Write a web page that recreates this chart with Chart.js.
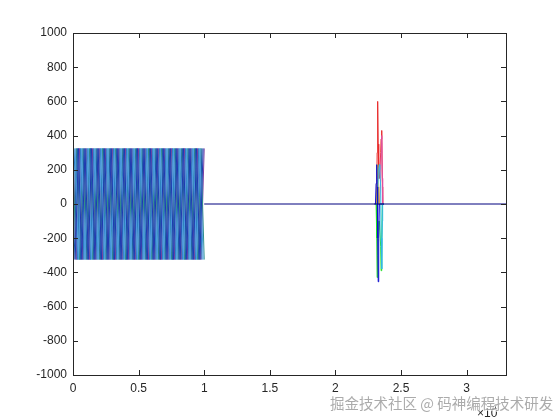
<!DOCTYPE html>
<html>
<head>
<meta charset="utf-8">
<script src="https://cdn.jsdelivr.net/npm/chart.js@4.4.1/dist/chart.umd.min.js"></script>
<style>
  html, body { margin: 0; padding: 0; background: #fff; }
  #wrap { width: 560px; height: 420px; position: relative; }
</style>
</head>
<body>
<div id="wrap"><canvas id="plot" width="560" height="420"></canvas></div>
<script>
// sample times (x axis, samples) for the three phase groups of the band
let tA = [0,250,500,750,1000,1250,1500,1750,2000,2250,2500,2750,3000,3250,3500,3750,4000,4250,4500,4750,5000,5250,5500,5750,6000,6250,6500,6750,7000,7250,7500,7750,8000,8250,8500,8750,9000,9250,9500,9750,10000];
let tB = [83,333,583,833,1083,1333,1583,1833,2083,2333,2583,2833,3083,3333,3583,3833,4083,4333,4583,4833,5083,5333,5583,5833,6083,6333,6583,6833,7083,7333,7583,7833,8083,8333,8583,8833,9083,9333,9583,9833];
let tC = [167,417,667,917,1167,1417,1667,1917,2167,2417,2667,2917,3167,3417,3667,3917,4167,4417,4667,4917,5167,5417,5667,5917,6167,6417,6667,6917,7167,7417,7667,7917,8167,8417,8667,8917,9167,9417,9667,9917];

// peak / trough values of the waves
let swingUp = [325,-325,325,-325,325,-325,325,-325,325,-325,325,-325,325,-325,325,-325,325,-325,325,-325,325,-325,325,-325,325,-325,325,-325,325,-325,325,-325,325,-325,325,-325,325,-325,325,-325,325];
let swingDown = [-325,325,-325,325,-325,325,-325,325,-325,325,-325,325,-325,325,-325,325,-325,325,-325,325,-325,325,-325,325,-325,325,-325,325,-325,325,-325,325,-325,325,-325,325,-325,325,-325,325,-325];

// flat part after the band
let flatT = [10000, 33000];
let flatV = [0, 0];

// transient around 2.3e4
let spikeT = [23000,23050,23100,23150,23180,23220,23260,23300,23350,23380,23450,23480,23530,23580,23600,23700];
let spikeRed     = [0,0,0,80,300,600,350,150,150,150,300,380,430,100,0,0];
let spikeBlue    = [0,0,120,230,100,-200,-455,-200,0,0,0,0,0,0,0,0];
let spikeGreen   = [0,0,0,-200,-430,-300,-150,-100,-100,-100,-250,-390,-200,0,0,0];
let spikeCyan    = [0,0,0,0,0,80,150,200,230,200,100,-200,-380,-100,0,0];
let spikeYellow  = [0,0,0,60,150,230,100,0,0,0,0,0,0,0,0,0];
let spikeMagenta = [0,0,0,0,0,0,0,0,0,0,150,300,400,150,0,0];

let xTicks = [0,5000,10000,15000,20000,25000,30000];
let xTickLabels = ["0","0.5","1","1.5","2","2.5","3"];
let yTicks = [-1000,-800,-600,-400,-200,0,200,400,600,800,1000];

function pts(times, vals) {
  return times.map(function (t, i) { return { x: t, y: vals[i] }; });
}

function line(label, times, vals, color) {
  return {
    label: label,
    data: pts(times, vals),
    borderColor: color,
    borderWidth: 1,
    pointRadius: 0,
    tension: 0,
    fill: false
  };
}

// first dataset is drawn on top
var datasets = [
  line("flat", flatT, flatV, "#00007f"),
  line("s1", spikeT, spikeBlue, "#1010d0"),
  line("s2", spikeT, spikeCyan, "#30b8e8"),
  line("s3", spikeT, spikeYellow, "#d8d020"),
  line("s4", spikeT, spikeGreen, "#20e020"),
  line("s5", spikeT, spikeMagenta, "#e050a0"),
  line("s6", spikeT, spikeRed, "#e82828"),
  line("b1", tC, swingDown, "#1f3ab0"),
  line("b2", tC, swingUp, "#4a9be0"),
  line("b3", tB, swingDown, "#1d5aa8"),
  line("b4", tB, swingUp, "#2c80c4"),
  line("b5", tA, swingDown, "#2f8f8c"),
  line("b6", tA, swingUp, "#7a40a0")
];

// MATLAB style box with inward ticks, plus the exponent and watermark
var boxPlugin = {
  id: "box",
  afterDraw: function (chart) {
    var ctx = chart.ctx;
    var a = chart.chartArea;
    var xs = chart.scales.x, ys = chart.scales.y;
    ctx.save();
    ctx.strokeStyle = "#262626";
    ctx.lineWidth = 1;
    ctx.strokeRect(Math.round(a.left) + 0.5, Math.round(a.top) + 0.5,
      Math.round(a.right - a.left), Math.round(a.bottom - a.top));
    ctx.beginPath();
    xTicks.forEach(function (v) {
      var px = Math.round(xs.getPixelForValue(v)) + 0.5;
      ctx.moveTo(px, a.bottom); ctx.lineTo(px, a.bottom - 5);
      ctx.moveTo(px, a.top); ctx.lineTo(px, a.top + 5);
    });
    yTicks.forEach(function (v) {
      var py = Math.round(ys.getPixelForValue(v)) + 0.5;
      ctx.moveTo(a.left, py); ctx.lineTo(a.left + 5, py);
      ctx.moveTo(a.right, py); ctx.lineTo(a.right - 5, py);
    });
    ctx.stroke();

    ctx.fillStyle = "#262626";
    ctx.font = "12px 'Liberation Sans', Arial, sans-serif";
    ctx.textBaseline = "alphabetic";
    ctx.fillText("\u00d710", 477, 417);
    ctx.font = "9px 'Liberation Sans', Arial, sans-serif";
    ctx.fillText("4", 492, 410);

    // watermark
    ctx.font = "14.5px 'Noto Sans CJK SC', sans-serif";
    ctx.lineWidth = 2;
    ctx.strokeStyle = "rgba(255,255,255,0.6)";
    ctx.strokeText("掘金技术社区 @ 码神编程技术研发", 330, 409);
    ctx.fillStyle = "rgba(150,150,150,0.8)";
    ctx.fillText("掘金技术社区 @ 码神编程技术研发", 330, 409);
    ctx.restore();
  }
};

var ctx = document.getElementById("plot").getContext("2d");
var chart = new Chart(ctx, {
  type: "line",
  data: { datasets: datasets },
  options: {
    responsive: false,
    animation: false,
    layout: { padding: { left: 0, right: 54, top: 33, bottom: 0 } },
    plugins: { legend: { display: false }, tooltip: { enabled: false } },
    scales: {
      x: {
        type: "linear",
        min: 0,
        max: 33000,
        grid: { display: false, tickLength: 0 },
        border: { display: false },
        afterFit: function (s) { s.height = 45; },
        afterBuildTicks: function (s) { s.ticks = xTicks.map(function (v) { return { value: v }; }); },
        ticks: {
          padding: 6,
          color: "#262626",
          font: { family: "'Liberation Sans', Arial, sans-serif", size: 12 },
          maxRotation: 0,
          callback: function (v) { return xTickLabels[xTicks.indexOf(v)]; }
        }
      },
      y: {
        min: -1000,
        max: 1000,
        grid: { display: false, tickLength: 0 },
        border: { display: false },
        afterFit: function (s) { s.width = 73; },
        afterBuildTicks: function (s) { s.ticks = yTicks.map(function (v) { return { value: v }; }); },
        ticks: {
          padding: 6,
          color: "#262626",
          font: { family: "'Liberation Sans', Arial, sans-serif", size: 12 },
          callback: function (v) { return String(v); }
        }
      }
    }
  },
  plugins: [boxPlugin]
});
</script>
</body>
</html>
